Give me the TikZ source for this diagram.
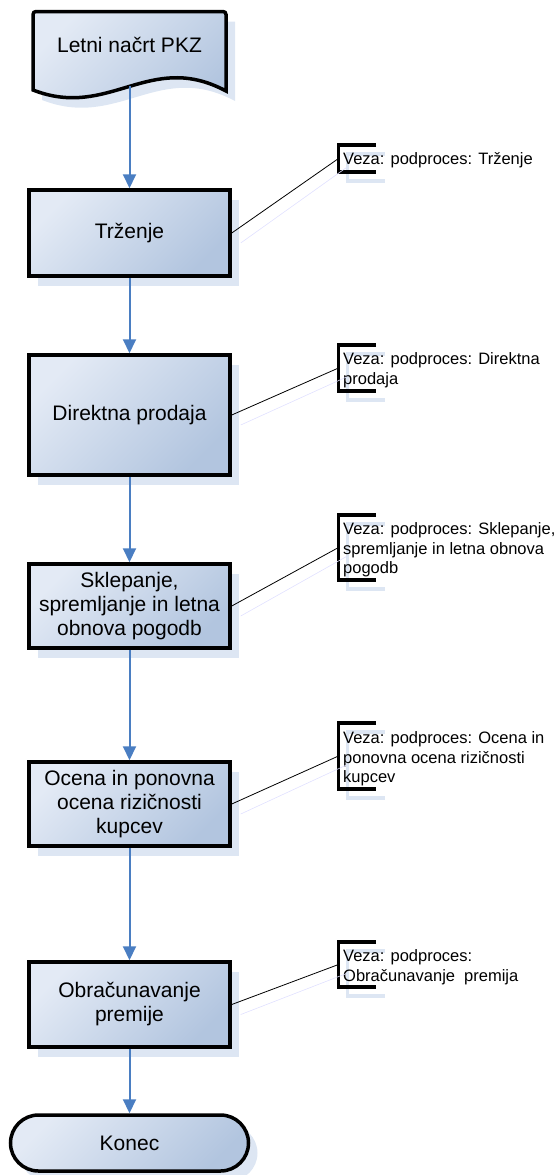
\documentclass[tikz,border=0pt]{standalone}
\usepackage{fontspec}
\setmainfont{Liberation Sans}
\usetikzlibrary{arrows.meta,shadows}

\definecolor{boxlight}{HTML}{E3EAF5}
\definecolor{boxdark}{HTML}{B2C5DF}
\definecolor{flowblue}{HTML}{4A7EC2}
\definecolor{shadowblue}{HTML}{DDE6F3}

\tikzset{
  procbox/.style={draw, line width=3.5pt, top color=boxlight, bottom color=boxdark, shading angle=45,
    minimum width=201pt, align=center, font=\fontsize{21}{24}\selectfont,
    drop shadow={shadow xshift=9pt, shadow yshift=-10pt, fill=shadowblue, opacity=1}},
  endbox/.style={procbox, rounded corners=28pt, minimum width=238pt, minimum height=56pt},
  doctext/.style={align=center, font=\fontsize{21}{24}\selectfont},
  note/.style={anchor=north west, inner sep=0pt, align=left, font=\fontsize{16.5}{19.5}\selectfont},
  bracket/.style={line width=3.5pt},
  brshadow/.style={line width=3.5pt, shadowblue},
  link/.style={line width=0.8pt},
  linkshade/.style={line width=0.6pt, blue!12},
  flow/.style={flowblue, line width=2pt, -{Triangle[width=13pt,length=14pt]}}
}

\begin{document}
\begin{tikzpicture}[x=1pt,y=-1pt]
\useasboundingbox (0,0) rectangle (559,1175);

% document shape at the top
\fill[shadowblue, xshift=9pt, yshift=-10pt] (33,90) -- (33,11.5) -- (226,11.5) -- (226,91) .. controls (149.5,50) and (109.5,120) .. (33,90) -- cycle;
\draw[line width=3.5pt, top color=boxlight, bottom color=boxdark, shading angle=45] (33,90) [rounded corners=3pt] -- (33,11.5) -- (226,11.5) [sharp corners] -- (226,91) .. controls (149.5,50) and (109.5,120) .. coordinate[pos=0.5] (docout) (33,90) -- cycle;
\node[doctext] (doc) at (129.5,45) {Letni načrt PKZ};

% process steps
\node[procbox, minimum height=86pt] (trzenje) at (129.5,233) {Trženje};
\node[procbox, minimum height=120pt] (prodaja) at (129.5,415) {Direktna prodaja};
\node[procbox, minimum height=84pt] (pogodbe) at (129.5,606) {Sklepanje,\\spremljanje in letna\\obnova pogodb};
\node[procbox, minimum height=84pt] (ocena) at (129.5,804) {Ocena in ponovna\\ocena rizičnosti\\kupcev};
\node[procbox, minimum height=85pt] (premija) at (129.5,1004.5) {Obračunavanje\\premije};
\node[endbox] (konec) at (129.5,1143) {Konec};

\draw[flow] (docout) -- (trzenje);
\draw[flow] (trzenje) -- (prodaja);
\draw[flow] (prodaja) -- (pogodbe);
\draw[flow] (pogodbe) -- (ocena);
\draw[flow] (ocena) -- (premija);
\draw[flow] (premija) -- (konec);

% annotations
\draw[brshadow] (385,154) -- (347.5,154) -- (347.5,181) -- (385,181);
\draw[bracket] (376,145) -- (338.5,145) -- (338.5,172) -- (376,172);
\coordinate (b1) at (338.5,158.5);
\node[note] (n1) at (343,152.5) {Veza: podproces: Trženje};
\draw[linkshade] ([shift={(9,10)}]trzenje.east) -- ([shift={(8,9)}]b1);
\draw[link] (trzenje.east) -- (b1);

\draw[brshadow] (385,354) -- (347.5,354) -- (347.5,400) -- (385,400);
\draw[bracket] (376,345) -- (338.5,345) -- (338.5,391) -- (376,391);
\coordinate (b2) at (338.5,368);
\node[note] (n2) at (343,352.5) {Veza: podproces: Direktna\\prodaja};
\draw[linkshade] ([shift={(9,10)}]prodaja.east) -- ([shift={(8,9)}]b2);
\draw[link] (prodaja.east) -- (b2);

\draw[brshadow] (385,524) -- (347.5,524) -- (347.5,589) -- (385,589);
\draw[bracket] (376,515) -- (338.5,515) -- (338.5,580) -- (376,580);
\coordinate (b3) at (338.5,547.5);
\node[note] (n3) at (343,522.5) {Veza: podproces: Sklepanje,\\spremljanje in letna obnova\\pogodb};
\draw[linkshade] ([shift={(9,10)}]pogodbe.east) -- ([shift={(8,9)}]b3);
\draw[link] (pogodbe.east) -- (b3);

\draw[brshadow] (385,732) -- (347.5,732) -- (347.5,798) -- (385,798);
\draw[bracket] (376,723) -- (338.5,723) -- (338.5,789) -- (376,789);
\coordinate (b4) at (338.5,756);
\node[note] (n4) at (343,731.5) {Veza: podproces: Ocena in\\ponovna ocena rizičnosti\\kupcev};
\draw[linkshade] ([shift={(9,10)}]ocena.east) -- ([shift={(8,9)}]b4);
\draw[link] (ocena.east) -- (b4);

\draw[brshadow] (385,951) -- (347.5,951) -- (347.5,996) -- (385,996);
\draw[bracket] (376,942) -- (338.5,942) -- (338.5,987) -- (376,987);
\coordinate (b5) at (338.5,964.5);
\node[note] (n5) at (343,949.5) {Veza: podproces:\\Obračunavanje~ premija};
\draw[linkshade] ([shift={(9,10)}]premija.east) -- ([shift={(8,9)}]b5);
\draw[link] (premija.east) -- (b5);
\end{tikzpicture}
\end{document}
